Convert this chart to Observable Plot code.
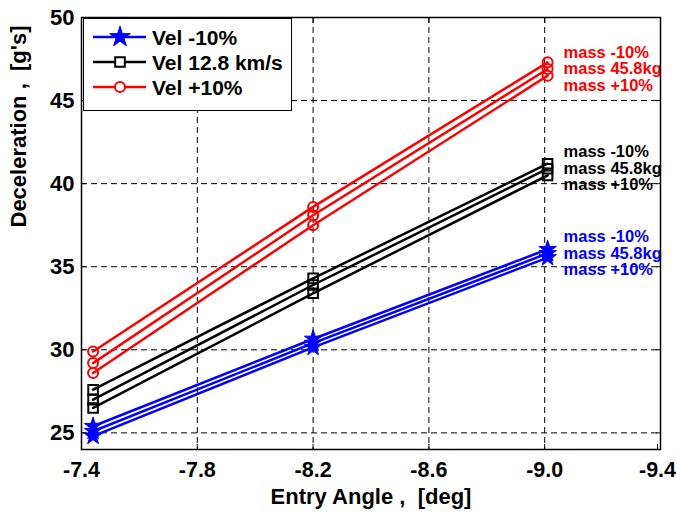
<!DOCTYPE html>
<html>
<head>
<meta charset="utf-8">
<script src="https://cdn.jsdelivr.net/npm/d3@7"></script>
<script src="https://cdn.jsdelivr.net/npm/@observablehq/plot@0.6"></script>
<style>
  html, body { margin: 0; padding: 0; background: white; }
  #wrap { position: relative; width: 676px; height: 515px; font-family: "Liberation Sans", Arial, sans-serif; }
  #legend { position: absolute; left: 83px; top: 18px; width: 207px; height: 91px; border: 1.5px solid black; background: white; }
</style>
</head>
<body>
<div id="wrap"><div id="chart"></div><div id="legend"></div></div>
<script>
// Entry angle [deg] of the three simulated cases
const angles = [-7.44, -8.2, -9.01];
const velLabels = ["Vel -10%", "Vel 12.8 km/s", "Vel +10%"];
const massLabels = ["mass -10%", "mass 45.8kg", "mass +10%"];
const colors = ["#0000ff", "#000000", "#ff0000"];
const symbols = ["star", "square", "circle"];
// Deceleration [g's]; rows: mass -10%, mass 45.8kg, mass +10%
const decelVelMinus   = [[25.4, 30.65, 36.05], [25.1, 30.4, 35.8], [24.8, 30.15, 35.55]];
const decelVelNominal = [[27.6, 34.3, 41.2], [27.0, 33.9, 40.9], [26.5, 33.4, 40.5]];
const decelVelPlus    = [[29.9, 38.6, 47.3], [29.2, 38.1, 46.9], [28.6, 37.5, 46.5]];
const xTicks = [-7.4, -7.8, -8.2, -8.6, -9.0, -9.4];
const yTicks = [25, 30, 35, 40, 45, 50];
const xLabel = "Entry Angle ,\u00a0 [deg]";
const yLabel = "Deceleration ,\u00a0 [g's]";

const allSeries = [decelVelMinus, decelVelNominal, decelVelPlus];
const font = "Liberation Sans, Arial, sans-serif";

const marks = [];
// dashed grid
marks.push(Plot.ruleX(xTicks.slice(1, -1), {stroke: "black", strokeWidth: 1, strokeDasharray: "6,4"}));
marks.push(Plot.ruleY(yTicks.slice(0, -1), {stroke: "black", strokeWidth: 1, strokeDasharray: "6,4"}));

allSeries.forEach((series, v) => {
  const rows = [];
  series.forEach((vals, m) => vals.forEach((d, i) => rows.push({angle: angles[i], decel: d, mass: m})));
  marks.push(Plot.line(rows, {x: "angle", y: "decel", z: "mass", stroke: colors[v], strokeWidth: 2.5}));
  const isStar = symbols[v] === "star";
  marks.push(Plot.dot(rows, {
    x: "angle", y: "decel", symbol: symbols[v],
    r: isStar ? 5.5 : (symbols[v] === "square" ? 5.4 : 5),
    stroke: colors[v], fill: isStar ? colors[v] : "none", strokeWidth: isStar ? 1 : 2
  }));
  // mass annotations next to the last point, stacked around the middle curve
  massLabels.forEach((lab, m) => {
    marks.push(Plot.text([{angle: angles[2], decel: series[1][2], t: lab}], {
      x: "angle", y: "decel", text: "t", textAnchor: "start", lineAnchor: "middle",
      dx: 16, dy: (m - 1) * 16.5, fill: colors[v], fontSize: 16.5, fontWeight: "bold"
    }));
  });
});

// axes with inward ticks
const xAxisStyle = {anchor: "bottom", tickSize: -5, tickPadding: 17, tickFormat: d => d.toFixed(1), fontSize: 21.5, fontWeight: "bold", label: null, fill: "black"};
marks.push(Plot.axisX(xTicks.slice(0, -1), xAxisStyle));
marks.push(Plot.axisX(xTicks.slice(-1), {...xAxisStyle, dx: -3}));
marks.push(Plot.axisX(xTicks, {anchor: "top", tickSize: -5, tickFormat: () => "", label: null}));
marks.push(Plot.axisY(yTicks, {anchor: "left", tickSize: -5, tickPadding: 12, tickFormat: d => String(d), fontSize: 22, fontWeight: "bold", label: null, fill: "black"}));
marks.push(Plot.axisY(yTicks, {anchor: "right", tickSize: -5, tickFormat: () => "", label: null}));
marks.push(Plot.frame({stroke: "black", strokeWidth: 1.5}));
// axis titles
marks.push(Plot.text([xLabel], {frameAnchor: "bottom", dy: 47, text: d => d, fontSize: 22, fontWeight: "bold", lineAnchor: "middle", fill: "black"}));
marks.push(Plot.text([yLabel], {frameAnchor: "left", dx: -63, dy: -6, rotate: -90, text: d => d, fontSize: 22, fontWeight: "bold", lineAnchor: "middle", fill: "black"}));

const chart = Plot.plot({
  width: 676, height: 515,
  marginLeft: 81, marginRight: 16, marginTop: 17, marginBottom: 66,
  x: {domain: [-7.4, -9.4]},
  y: {domain: [24, 50]},
  style: {fontFamily: font, background: "white", overflow: "visible"},
  marks
});
document.getElementById("chart").appendChild(chart);

// legend
const lg = d3.select("#legend").append("svg").attr("width", 207).attr("height", 91).style("display", "block");
velLabels.forEach((lab, v) => {
  const cy = 18 + v * 25;
  lg.append("line").attr("x1", 9).attr("x2", 62).attr("y1", cy).attr("y2", cy)
    .attr("stroke", colors[v]).attr("stroke-width", 2.5);
  const sym = symbols[v] === "star" ? d3.symbolStar : symbols[v] === "square" ? d3.symbolSquare : d3.symbolCircle;
  const size = symbols[v] === "star" ? Math.PI * 6.5 * 6.5 : symbols[v] === "square" ? Math.PI * 5.4 * 5.4 : Math.PI * 25;
  lg.append("path").attr("d", d3.symbol(sym, size)()).attr("transform", `translate(36,${cy})`)
    .attr("fill", symbols[v] === "star" ? colors[v] : "white").attr("stroke", colors[v]).attr("stroke-width", symbols[v] === "star" ? 1 : 2);
  lg.append("text").attr("x", 68).attr("y", cy).attr("dy", "0.36em")
    .attr("font-family", font).attr("font-weight", "bold").attr("font-size", 21).attr("fill", "black").text(lab);
});
</script>
</body>
</html>
